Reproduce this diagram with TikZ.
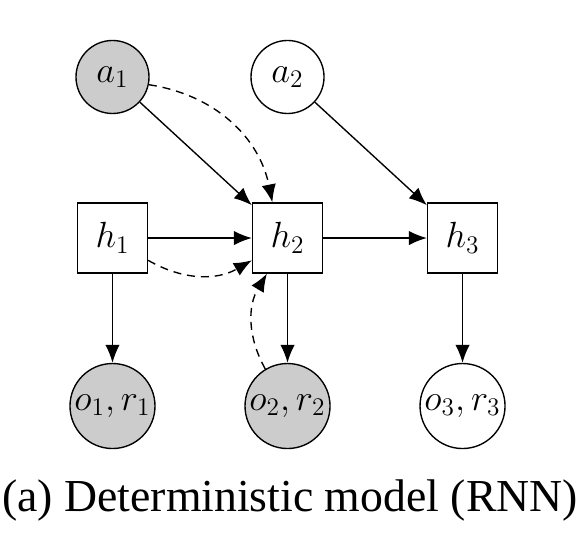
\documentclass[tikz,border=0pt]{standalone}
\usepackage{fontspec}
\setmainfont{Liberation Serif}
\newfontfamily\capfont{Liberation Serif}
\usetikzlibrary{arrows.meta}
\def\layersep{2.917cm}

\begin{document}
\begin{tikzpicture}[
	->,>={Latex[length=8.5pt,width=6.8pt]},line width=0.65pt]
	\tikzstyle{var}=[circle,draw,inner sep=0pt,font=\fontsize{17}{20}\selectfont]
	\tikzstyle{action}=[var, minimum size=1.217cm]
	\tikzstyle{obs}=[var, minimum size=1.417cm]
	\tikzstyle{seen}=[fill=black!20]
	\tikzstyle{state}=[rectangle,draw,minimum size=1.167cm,inner sep=0pt,font=\fontsize{17}{20}\selectfont]
	\tikzstyle{pass}=[dash pattern=on 3.8pt off 2.8pt]
	
	\useasboundingbox (0,0) rectangle (9.717,-9.05);
	
	% Draw action nodes
	\node[action, seen] (A-1) at (1.875cm,-1.283cm) {$a_1$};
	\node[action] (A-2) at (1.875cm+\layersep,-1.283cm) {$a_2$};
	
	% Draw hidden state nodes
	\foreach \name in {1,...,3}
	\node[state] (H-\name) at ({1.875cm+(\name-1)*\layersep},-3.967cm) {$h_\name$};
	
	% Draw observation nodes
	\foreach \name / \c in {1/black!20,2/black!20,3/white}
	\node[obs, fill=\c] (O-\name) at ({1.875cm+(\name-1)*\layersep},-6.767cm) {$o_\name, r_\name$};
	
	% Connect hidden states
	\foreach \source / \dest in {1/2,2/3}
	\path (H-\source) edge (H-\dest);
	
	% Connect hidden states and observations
	\foreach \name in {1,...,3}
	\path (H-\name) edge (O-\name);
	
	% Connect actions and hidden states
	\path (A-1) edge (H-2);
	\path (A-2) edge (H-3);
	
	% Dashed connections into h2
	\path[pass] (A-1.-12) edge[bend left=35] (H-2.113);
	\path[pass] (H-1.-32) edge[bend right=30] (H-2.-148);
	\path[pass] (O-2.121) edge[bend left=30] (H-2.-120);
	
	% Caption
	\node[anchor=base,font=\capfont\fontsize{21.7}{26}\selectfont] (caption) at (4.833cm,-8.533cm) {(a) Deterministic model (RNN)};
\end{tikzpicture}
\end{document}
